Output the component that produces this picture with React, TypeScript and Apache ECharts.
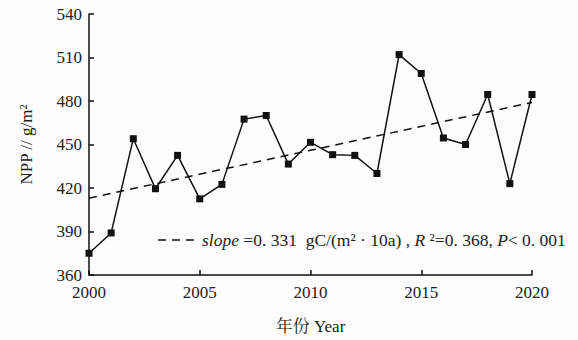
import React, { useEffect, useRef } from "react";
import * as echarts from "echarts";

const years = [2000, 2001, 2002, 2003, 2004, 2005, 2006, 2007, 2008, 2009, 2010, 2011, 2012, 2013, 2014, 2015, 2016, 2017, 2018, 2019, 2020];
const npp = [375, 389, 454, 419.5, 442.5, 412.5, 422.5, 467.5, 470, 436.5, 451.5, 443, 442.5, 430, 512, 499, 454.5, 450, 484.5, 423, 484.5];
const trendYears = [2000, 2020];
const trendValues = [413, 479];
const xTicks = { min: 2000, max: 2020, interval: 5 };
const yTicks = { min: 360, max: 540, interval: 30 };
const legendText = "{i|slope} =0. 331  gC/(m² · 10a) , {i|R} ²=0. 368, {i|P}< 0. 001";

const FONT = "'Liberation Serif', 'Noto Serif CJK SC', 'Noto Sans CJK SC', serif";

export default function App() {
  const ref = useRef<HTMLDivElement>(null);
  useEffect(() => {
    if (!ref.current) return;
    const chart = echarts.init(ref.current, undefined, { renderer: "svg" });
    chart.setOption({
      animation: false,
      backgroundColor: "#fdfdfd",
      textStyle: { fontFamily: FONT },
      grid: { left: 89, right: 46, top: 14, bottom: 65 },
      graphic: [
        {
          type: "line",
          shape: { x1: 158, y1: 240, x2: 196, y2: 240 },
          style: { stroke: "#111", lineWidth: 1.5, lineDash: [8, 6] },
        },
        {
          type: "text",
          x: 202,
          y: 240,
          style: {
            text: legendText,
            font: `17.5px ${FONT}`,
            fill: "#222",
            verticalAlign: "middle",
            align: "left",
            rich: {
              i: { fontStyle: "italic", fontFamily: FONT, fontSize: 17.5, fill: "#222" },
            },
          },
        },
      ],
      xAxis: {
        type: "value",
        min: xTicks.min,
        max: xTicks.max,
        interval: xTicks.interval,
        name: "年份 Year",
        nameLocation: "middle",
        nameGap: 43,
        nameTextStyle: { fontFamily: FONT, fontSize: 17, color: "#222" },
        axisLine: { show: true, lineStyle: { color: "#111", width: 1.5 } },
        axisTick: { show: true, inside: true, length: 5, lineStyle: { color: "#111", width: 1.5 } },
        axisLabel: { fontFamily: FONT, fontSize: 17, color: "#222", margin: 9, formatter: (v: number) => String(v) },
        splitLine: { show: false },
      },
      yAxis: {
        type: "value",
        min: yTicks.min,
        max: yTicks.max,
        interval: yTicks.interval,
        name: "NPP // g/m²",
        nameLocation: "middle",
        nameGap: 54,
        nameRotate: 90,
        nameTextStyle: { fontFamily: FONT, fontSize: 17, color: "#222" },
        axisLine: { show: true, lineStyle: { color: "#111", width: 1.5 } },
        axisTick: { show: true, inside: true, length: 5, lineStyle: { color: "#111", width: 1.5 } },
        axisLabel: { fontFamily: FONT, fontSize: 17, color: "#222", margin: 7 },
        splitLine: { show: false },
      },
      series: [
        {
          name: "NPP",
          type: "line",
          data: years.map((y, i) => [y, npp[i]]),
          symbol: "rect",
          symbolSize: 7,
          itemStyle: { color: "#111" },
          lineStyle: { color: "#111", width: 1.5 },
          z: 3,
        },
        {
          name: "trend",
          type: "line",
          data: trendYears.map((y, i) => [y, trendValues[i]]),
          symbol: "none",
          itemStyle: { color: "#111" },
          lineStyle: { color: "#111", width: 1.5, type: [8, 6] },
          z: 2,
        },
      ],
    });
    return () => chart.dispose();
  }, []);
  return <div ref={ref} style={{ width: 578, height: 340, position: "absolute", left: 0, top: 0 }} />;
}
